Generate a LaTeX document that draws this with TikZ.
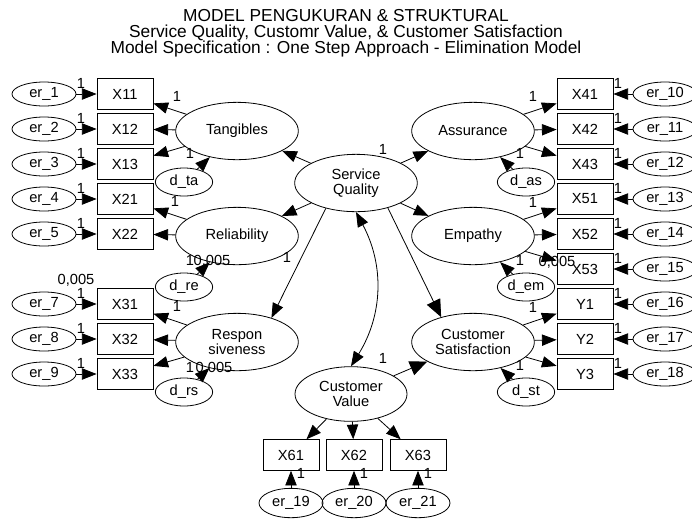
\documentclass[tikz,border=0pt]{standalone}
\usepackage{fontspec}
\setmainfont{Liberation Sans}
\usetikzlibrary{arrows.meta}
\usetikzlibrary{shapes.geometric}

\tikzset{
	obs/.style={draw, rectangle, minimum width=42pt, minimum height=23pt, inner sep=0pt},
	lat/.style={draw, ellipse, minimum width=92pt, minimum height=43pt, inner sep=0pt, align=center},
	err/.style={draw, ellipse, minimum width=48pt, minimum height=18pt, inner sep=0pt},
	dis/.style={draw, ellipse, minimum width=43pt, minimum height=21pt, inner sep=0pt},
	reg/.style={-{Triangle[length=11pt,width=8.5pt]}},
	regbig/.style={-{Triangle[length=13pt,width=11pt]}},
	lbl/.style={inner sep=0pt},
	ttl/.style={anchor=base, inner sep=0pt, font=\fontsize{13}{14}\selectfont}
}

\begin{document}
\begin{tikzpicture}[x=0.75pt, y=-0.75pt, line width=0.6pt, font=\fontsize{11}{11.5}\selectfont]
				\useasboundingbox (0,0) rectangle (692,519);
				
				% title
				\node[ttl] (t1) at (346,21) {MODEL PENGUKURAN \& STRUKTURAL};
				\node[ttl] (t2) at (346,37) {Service Quality, Customr Value, \& Customer Satisfaction};
				\node[ttl] (t3) at (346,53) {Model Specification : One Step Approach - Elimination Model};
				
				% latent variables
				\node[lat] (sq) at (356,183) {Service\\Quality};
				\node[lat] (tang) at (237,131) {Tangibles};
				\node[lat] (rel) at (237,236) {Reliability};
				\node[lat] (resp) at (237,342) {Respon\\siveness};
				\node[lat] (asr) at (473,131) {Assurance};
				\node[lat] (emp) at (473,236) {Empathy};
				\node[lat] (cs) at (473,342) {Customer\\Satisfaction};
				\node[lat, minimum width=84pt, minimum height=41pt] (cv) at (351,394) {Customer\\Value};
				
				% disturbances
				\node[dis] (dta) at (184,182) {d\_ta};
				\node[dis] (dre) at (184,287) {d\_re};
				\node[dis] (drs) at (184,392) {d\_rs};
				\node[dis] (das) at (526,182) {d\_as};
				\node[dis] (dem) at (526,287) {d\_em};
				\node[dis] (dst) at (526,392) {d\_st};
				\draw[reg] (dta) -- (tang);
				\draw[reg] (dre) -- (rel);
				\draw[reg] (drs) -- (resp);
				\draw[reg] (das) -- (asr);
				\draw[reg] (dem) -- (emp);
				\draw[reg] (dst) -- (cs);
				
				% left indicators
				\foreach \t/\e/\y in {X11/1/94, X12/2/129, X13/3/164, X21/4/199, X22/5/234, X31/7/304, X32/8/339, X33/9/374} {
					\node[obs] (\t) at (125,\y) {\t};
					\node[err] (er\e) at (44,\y) {er\_\e};
					\draw[reg] (er\e) -- (\t);
					\node[lbl] (le\e) at (81,\y-11) {1};
				}
				
				% right indicators
				\foreach \t/\e/\y in {X41/10/94, X42/11/129, X43/12/164, X51/13/199, X52/14/234, X53/15/269, Y1/16/304, Y2/17/339, Y3/18/374} {
					\node[obs] (\t) at (585,\y) {\t};
					\node[err] (er\e) at (665,\y) {er\_\e};
					\draw[reg] (er\e) -- (\t);
					\node[lbl] (le\e) at (618,\y-11) {1};
				}
				
				% bottom indicators
				\foreach \t/\e/\x in {X61/19/291, X62/20/354, X63/21/418} {
					\node[obs] (\t) at (\x,455) {\t};
					\node[err, minimum height=22pt] (er\e) at (\x,503) {er\_\e};
					\draw[reg] (er\e) -- (\t);
					\draw[reg] (cv) -- (\t);
					\node[lbl] (le\e) at (\x+10,473) {1};
				}
				
				% loadings
				\foreach \t in {X11,X12,X13} \draw[reg] (tang) -- (\t);
				\foreach \t in {X21,X22} \draw[reg] (rel) -- (\t);
				\foreach \t in {X31,X32,X33} \draw[reg] (resp) -- (\t);
				\foreach \t in {X41,X42,X43} \draw[reg] (asr) -- (\t);
				\foreach \t in {X51,X52,X53} \draw[reg] (emp) -- (\t);
				\foreach \t in {Y1,Y2,Y3} \draw[reg] (cs) -- (\t);
				
				% structural paths
				\draw[reg] (sq) -- (tang);
				\draw[reg] (sq) -- (rel);
				\draw[reg] (sq.-140) -- (resp.35);
				\draw[reg] (sq) -- (asr);
				\draw[reg] (sq) -- (emp);
				\draw[regbig] (sq.-38) -- (cs.142);
				\draw[regbig] (cv) -- (cs);
				\draw[{Triangle[length=11pt,width=8.5pt]}-{Triangle[length=11pt,width=8.5pt]}] (sq.south) to[bend left=30] (cv.north);
				
				% estimates
				\node[lbl] (l1) at (177,96) {1};
				\node[lbl] (l2) at (175,201) {1};
				\node[lbl] (l3) at (177,306) {1};
				\node[lbl] (l4) at (533,96) {1};
				\node[lbl] (l5) at (533,202) {1};
				\node[lbl] (l6) at (533,307) {1};
				\node[lbl] (l7) at (190,153) {1};
				\node[lbl] (l8) at (190,260) {1};
				\node[lbl] (l9) at (190,367) {1};
				\node[lbl] (l10) at (520,153) {1};
				\node[lbl] (l11) at (520,260) {1};
				\node[lbl] (l12) at (520,365) {1};
				\node[lbl] (l13) at (383,149) {1};
				\node[lbl] (l14) at (287,257) {1};
				\node[lbl] (l15) at (383,358) {1};
				\node[lbl] (v1) at (76,280) {0,005};
				\node[lbl] (v2) at (212,261) {0,005};
				\node[lbl] (v3) at (214,368) {0,005};
				\node[lbl] (v4) at (557,262) {0,005};
			\end{tikzpicture}
\end{document}
